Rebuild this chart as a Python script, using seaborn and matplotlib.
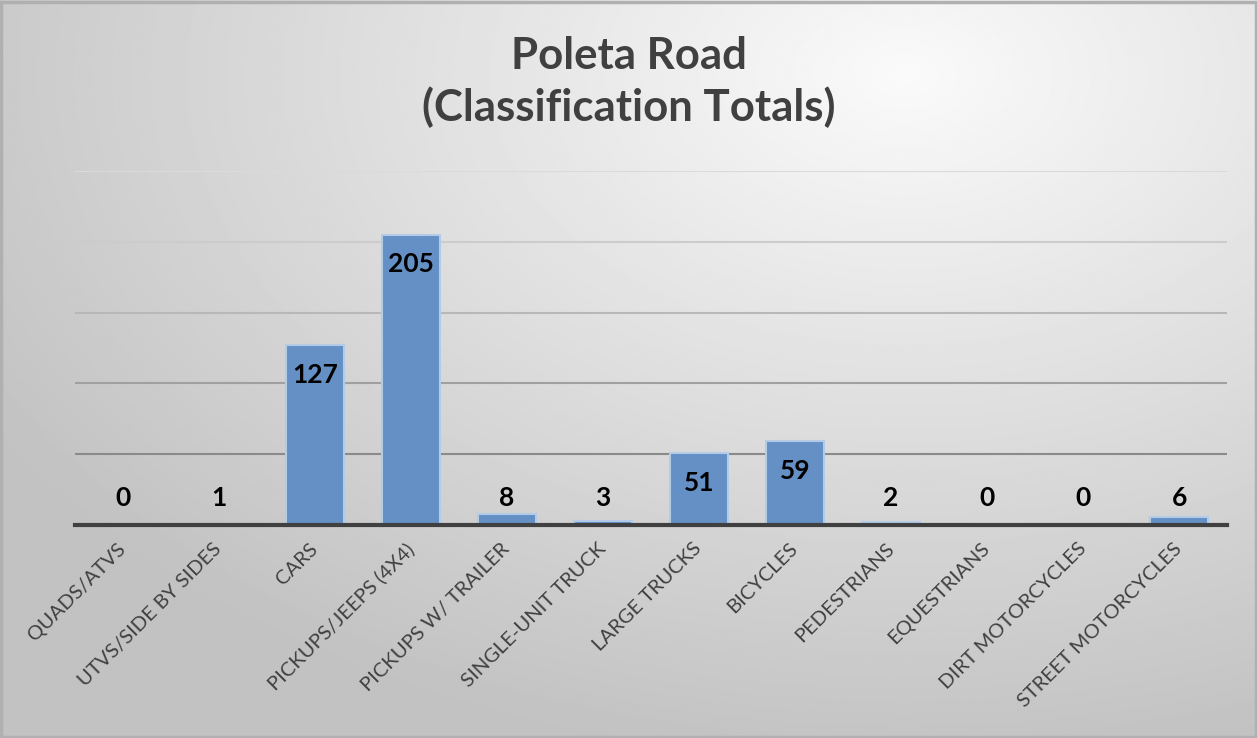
import numpy as np
import pandas as pd
import seaborn as sns
import matplotlib.pyplot as plt
from matplotlib.patches import Rectangle

# data
categories = ['QUADS/ATVS', 'UTVS/SIDE BY SIDES', 'CARS', 'PICKUPS/JEEPS (4X4)',
              'PICKUPS W/ TRAILER', 'SINGLE-UNIT TRUCK', 'LARGE TRUCKS', 'BICYCLES',
              'PEDESTRIANS', 'EQUESTRIANS', 'DIRT MOTORCYCLES', 'STREET MOTORCYCLES']
counts = [0, 1, 127, 205, 8, 3, 51, 59, 2, 0, 0, 6]
y_ticks = [0, 50, 100, 150, 200, 250]

df = pd.DataFrame({'Class': categories, 'Count': counts})

sns.set_theme(style='white')
plt.rcParams['font.family'] = ['Lato', 'DejaVu Sans']

fig = plt.figure(figsize=(12.57, 7.38), dpi=100)

# gradient background (light top-right, darker bottom-left)
bg = fig.add_axes([0, 0, 1, 1], zorder=-10)
yy, xx = np.mgrid[0:1:300j, 0:1:500j]
dist = np.sqrt((xx - 0.72) ** 2 + ((yy - 0.1) * 0.9) ** 2)
shade = 0.98 - 0.22 * np.clip(dist / 0.85, 0, 1)
bg.imshow(shade, cmap='gray', vmin=0, vmax=1, aspect='auto', extent=[0, 1, 0, 1], origin='upper')
bg.set_axis_off()
fig.add_artist(Rectangle((0.001, 0.001), 0.998, 0.996, transform=fig.transFigure,
                         fill=False, edgecolor='#b0b0b0', linewidth=2.5))

ax = fig.add_axes([0.0597, 0.2886, 0.9165, 0.4797])
ax.set_facecolor('none')
sns.barplot(data=df, x='Class', y='Count', color='#6490c6', width=0.6,
            edgecolor='#b4cbe8', linewidth=1.5, saturation=1, ax=ax, zorder=3)

ax.set_ylim(0, 250)
ax.set_xlim(-0.5, len(categories) - 0.5)
ax.set_yticks(y_ticks)
ax.yaxis.grid(True)
grid_colors = ['#555555', '#8a8a8a', '#a0a0a0', '#b8b8b8', '#cccccc', '#dadada']
for line, c in zip(ax.get_ygridlines(), grid_colors):
    line.set_color(c)
    line.set_linewidth(1.5)
ax.set_axisbelow(True)
ax.tick_params(axis='y', left=False, labelleft=False)
ax.tick_params(axis='x', bottom=False, pad=9)
for s in ['top', 'right', 'left']:
    ax.spines[s].set_visible(False)
ax.spines['bottom'].set_color('#404040')
ax.spines['bottom'].set_linewidth(3)
ax.spines['bottom'].set_zorder(5)

ax.set_xticks(range(len(categories)))
ax.set_xticklabels(categories, rotation=45, ha='right', va='center',
                   rotation_mode='anchor', fontsize=14.5, color='#404040')
ax.set_xlabel('')
ax.set_ylabel('')

# value labels: inside end, kept above the axis for short bars
for i, v in enumerate(counts):
    ax.text(i, max(v - 21, 19), str(v), ha='center', va='center',
            fontsize=19, fontweight='bold', color='black', zorder=6)

fig.text(0.5, 0.889, 'Poleta Road\n(Classification Totals)', ha='center', va='center',
         fontsize=31.5, fontweight='bold', color='#404040', linespacing=1.32)

fig.savefig('out.png', dpi=100)
